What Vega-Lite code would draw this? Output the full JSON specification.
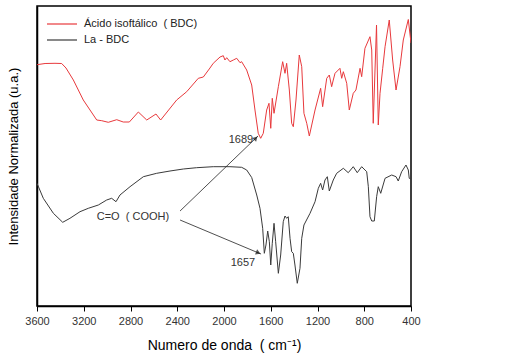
{
  "$schema": "https://vega.github.io/schema/vega-lite/v6.json",
  "width": 374,
  "height": 300,
  "autosize": {"type": "none"},
  "padding": {"left": 37, "top": 6, "right": 98, "bottom": 51},
  "background": "white",
  "config": {
    "font": "Liberation Sans",
    "view": {"stroke": "black", "strokeWidth": 1.5},
    "axis": {"domainColor": "black", "domainWidth": 1.5, "grid": false}
  },
  "datasets": {
    "spectra": [
      {"wn": 3600, "v": 241.3, "s": "Ácido isoftálico\u00a0\u00a0(\u00a0BDC)"},
      {"wn": 3531, "v": 242.5, "s": "Ácido isoftálico\u00a0\u00a0(\u00a0BDC)"},
      {"wn": 3446, "v": 242.7, "s": "Ácido isoftálico\u00a0\u00a0(\u00a0BDC)"},
      {"wn": 3389, "v": 242.5, "s": "Ácido isoftálico\u00a0\u00a0(\u00a0BDC)"},
      {"wn": 3352, "v": 238, "s": "Ácido isoftálico\u00a0\u00a0(\u00a0BDC)"},
      {"wn": 3289, "v": 226, "s": "Ácido isoftálico\u00a0\u00a0(\u00a0BDC)"},
      {"wn": 3204, "v": 206, "s": "Ácido isoftálico\u00a0\u00a0(\u00a0BDC)"},
      {"wn": 3089, "v": 186, "s": "Ácido isoftálico\u00a0\u00a0(\u00a0BDC)"},
      {"wn": 3046, "v": 185.3, "s": "Ácido isoftálico\u00a0\u00a0(\u00a0BDC)"},
      {"wn": 2990, "v": 183.7, "s": "Ácido isoftálico\u00a0\u00a0(\u00a0BDC)"},
      {"wn": 2918, "v": 186.3, "s": "Ácido isoftálico\u00a0\u00a0(\u00a0BDC)"},
      {"wn": 2862, "v": 184, "s": "Ácido isoftálico\u00a0\u00a0(\u00a0BDC)"},
      {"wn": 2810, "v": 184, "s": "Ácido isoftálico\u00a0\u00a0(\u00a0BDC)"},
      {"wn": 2733, "v": 194, "s": "Ácido isoftálico\u00a0\u00a0(\u00a0BDC)"},
      {"wn": 2661, "v": 186, "s": "Ácido isoftálico\u00a0\u00a0(\u00a0BDC)"},
      {"wn": 2582, "v": 192, "s": "Ácido isoftálico\u00a0\u00a0(\u00a0BDC)"},
      {"wn": 2542, "v": 186, "s": "Ácido isoftálico\u00a0\u00a0(\u00a0BDC)"},
      {"wn": 2405, "v": 206, "s": "Ácido isoftálico\u00a0\u00a0(\u00a0BDC)"},
      {"wn": 2319, "v": 214.3, "s": "Ácido isoftálico\u00a0\u00a0(\u00a0BDC)"},
      {"wn": 2220, "v": 227.7, "s": "Ácido isoftálico\u00a0\u00a0(\u00a0BDC)"},
      {"wn": 2177, "v": 229, "s": "Ácido isoftálico\u00a0\u00a0(\u00a0BDC)"},
      {"wn": 2120, "v": 238, "s": "Ácido isoftálico\u00a0\u00a0(\u00a0BDC)"},
      {"wn": 2092, "v": 242.7, "s": "Ácido isoftálico\u00a0\u00a0(\u00a0BDC)"},
      {"wn": 2034, "v": 249, "s": "Ácido isoftálico\u00a0\u00a0(\u00a0BDC)"},
      {"wn": 2006, "v": 250.3, "s": "Ácido isoftálico\u00a0\u00a0(\u00a0BDC)"},
      {"wn": 1992, "v": 246, "s": "Ácido isoftálico\u00a0\u00a0(\u00a0BDC)"},
      {"wn": 1977, "v": 248.3, "s": "Ácido isoftálico\u00a0\u00a0(\u00a0BDC)"},
      {"wn": 1949, "v": 244.3, "s": "Ácido isoftálico\u00a0\u00a0(\u00a0BDC)"},
      {"wn": 1920, "v": 246, "s": "Ácido isoftálico\u00a0\u00a0(\u00a0BDC)"},
      {"wn": 1891, "v": 247.7, "s": "Ácido isoftálico\u00a0\u00a0(\u00a0BDC)"},
      {"wn": 1863, "v": 243.3, "s": "Ácido isoftálico\u00a0\u00a0(\u00a0BDC)"},
      {"wn": 1849, "v": 244.3, "s": "Ácido isoftálico\u00a0\u00a0(\u00a0BDC)"},
      {"wn": 1806, "v": 236, "s": "Ácido isoftálico\u00a0\u00a0(\u00a0BDC)"},
      {"wn": 1763, "v": 221, "s": "Ácido isoftálico\u00a0\u00a0(\u00a0BDC)"},
      {"wn": 1735, "v": 196, "s": "Ácido isoftálico\u00a0\u00a0(\u00a0BDC)"},
      {"wn": 1707, "v": 172.7, "s": "Ácido isoftálico\u00a0\u00a0(\u00a0BDC)"},
      {"wn": 1686, "v": 167.7, "s": "Ácido isoftálico\u00a0\u00a0(\u00a0BDC)"},
      {"wn": 1664, "v": 172.7, "s": "Ácido isoftálico\u00a0\u00a0(\u00a0BDC)"},
      {"wn": 1635, "v": 196, "s": "Ácido isoftálico\u00a0\u00a0(\u00a0BDC)"},
      {"wn": 1615, "v": 202.7, "s": "Ácido isoftálico\u00a0\u00a0(\u00a0BDC)"},
      {"wn": 1600, "v": 177.7, "s": "Ácido isoftálico\u00a0\u00a0(\u00a0BDC)"},
      {"wn": 1587, "v": 207.7, "s": "Ácido isoftálico\u00a0\u00a0(\u00a0BDC)"},
      {"wn": 1572, "v": 192.7, "s": "Ácido isoftálico\u00a0\u00a0(\u00a0BDC)"},
      {"wn": 1535, "v": 219.3, "s": "Ácido isoftálico\u00a0\u00a0(\u00a0BDC)"},
      {"wn": 1498, "v": 244.3, "s": "Ácido isoftálico\u00a0\u00a0(\u00a0BDC)"},
      {"wn": 1478, "v": 232.7, "s": "Ácido isoftálico\u00a0\u00a0(\u00a0BDC)"},
      {"wn": 1464, "v": 242.7, "s": "Ácido isoftálico\u00a0\u00a0(\u00a0BDC)"},
      {"wn": 1441, "v": 216, "s": "Ácido isoftálico\u00a0\u00a0(\u00a0BDC)"},
      {"wn": 1421, "v": 182.7, "s": "Ácido isoftálico\u00a0\u00a0(\u00a0BDC)"},
      {"wn": 1407, "v": 179.3, "s": "Ácido isoftálico\u00a0\u00a0(\u00a0BDC)"},
      {"wn": 1384, "v": 206, "s": "Ácido isoftálico\u00a0\u00a0(\u00a0BDC)"},
      {"wn": 1356, "v": 251, "s": "Ácido isoftálico\u00a0\u00a0(\u00a0BDC)"},
      {"wn": 1335, "v": 239.3, "s": "Ácido isoftálico\u00a0\u00a0(\u00a0BDC)"},
      {"wn": 1316, "v": 192.7, "s": "Ácido isoftálico\u00a0\u00a0(\u00a0BDC)"},
      {"wn": 1292, "v": 182.7, "s": "Ácido isoftálico\u00a0\u00a0(\u00a0BDC)"},
      {"wn": 1270, "v": 170, "s": "Ácido isoftálico\u00a0\u00a0(\u00a0BDC)"},
      {"wn": 1221, "v": 196, "s": "Ácido isoftálico\u00a0\u00a0(\u00a0BDC)"},
      {"wn": 1173, "v": 217.7, "s": "Ácido isoftálico\u00a0\u00a0(\u00a0BDC)"},
      {"wn": 1156, "v": 199.3, "s": "Ácido isoftálico\u00a0\u00a0(\u00a0BDC)"},
      {"wn": 1121, "v": 227.7, "s": "Ácido isoftálico\u00a0\u00a0(\u00a0BDC)"},
      {"wn": 1099, "v": 231, "s": "Ácido isoftálico\u00a0\u00a0(\u00a0BDC)"},
      {"wn": 1079, "v": 219.3, "s": "Ácido isoftálico\u00a0\u00a0(\u00a0BDC)"},
      {"wn": 1065, "v": 226, "s": "Ácido isoftálico\u00a0\u00a0(\u00a0BDC)"},
      {"wn": 1050, "v": 232.7, "s": "Ácido isoftálico\u00a0\u00a0(\u00a0BDC)"},
      {"wn": 1008, "v": 237.7, "s": "Ácido isoftálico\u00a0\u00a0(\u00a0BDC)"},
      {"wn": 993, "v": 227.7, "s": "Ácido isoftálico\u00a0\u00a0(\u00a0BDC)"},
      {"wn": 979, "v": 234.3, "s": "Ácido isoftálico\u00a0\u00a0(\u00a0BDC)"},
      {"wn": 950, "v": 222.7, "s": "Ácido isoftálico\u00a0\u00a0(\u00a0BDC)"},
      {"wn": 928, "v": 196, "s": "Ácido isoftálico\u00a0\u00a0(\u00a0BDC)"},
      {"wn": 894, "v": 212.7, "s": "Ácido isoftálico\u00a0\u00a0(\u00a0BDC)"},
      {"wn": 871, "v": 216, "s": "Ácido isoftálico\u00a0\u00a0(\u00a0BDC)"},
      {"wn": 836, "v": 237.7, "s": "Ácido isoftálico\u00a0\u00a0(\u00a0BDC)"},
      {"wn": 822, "v": 229.3, "s": "Ácido isoftálico\u00a0\u00a0(\u00a0BDC)"},
      {"wn": 794, "v": 257.7, "s": "Ácido isoftálico\u00a0\u00a0(\u00a0BDC)"},
      {"wn": 751, "v": 269.3, "s": "Ácido isoftálico\u00a0\u00a0(\u00a0BDC)"},
      {"wn": 736, "v": 256, "s": "Ácido isoftálico\u00a0\u00a0(\u00a0BDC)"},
      {"wn": 723, "v": 182.7, "s": "Ácido isoftálico\u00a0\u00a0(\u00a0BDC)"},
      {"wn": 708, "v": 236, "s": "Ácido isoftálico\u00a0\u00a0(\u00a0BDC)"},
      {"wn": 695, "v": 281, "s": "Ácido isoftálico\u00a0\u00a0(\u00a0BDC)"},
      {"wn": 680, "v": 181, "s": "Ácido isoftálico\u00a0\u00a0(\u00a0BDC)"},
      {"wn": 665, "v": 212.7, "s": "Ácido isoftálico\u00a0\u00a0(\u00a0BDC)"},
      {"wn": 642, "v": 237.7, "s": "Ácido isoftálico\u00a0\u00a0(\u00a0BDC)"},
      {"wn": 622, "v": 259.3, "s": "Ácido isoftálico\u00a0\u00a0(\u00a0BDC)"},
      {"wn": 586, "v": 286, "s": "Ácido isoftálico\u00a0\u00a0(\u00a0BDC)"},
      {"wn": 557, "v": 246, "s": "Ácido isoftálico\u00a0\u00a0(\u00a0BDC)"},
      {"wn": 528, "v": 216, "s": "Ácido isoftálico\u00a0\u00a0(\u00a0BDC)"},
      {"wn": 494, "v": 239.3, "s": "Ácido isoftálico\u00a0\u00a0(\u00a0BDC)"},
      {"wn": 466, "v": 266, "s": "Ácido isoftálico\u00a0\u00a0(\u00a0BDC)"},
      {"wn": 423, "v": 286.5, "s": "Ácido isoftálico\u00a0\u00a0(\u00a0BDC)"},
      {"wn": 400, "v": 263, "s": "Ácido isoftálico\u00a0\u00a0(\u00a0BDC)"},
      {"wn": 3600, "v": 122.7, "s": "La - BDC"},
      {"wn": 3546, "v": 107.7, "s": "La - BDC"},
      {"wn": 3460, "v": 92.7, "s": "La - BDC"},
      {"wn": 3380, "v": 83.7, "s": "La - BDC"},
      {"wn": 3318, "v": 87.7, "s": "La - BDC"},
      {"wn": 3232, "v": 94.3, "s": "La - BDC"},
      {"wn": 3161, "v": 97.7, "s": "La - BDC"},
      {"wn": 3075, "v": 101, "s": "La - BDC"},
      {"wn": 3004, "v": 106, "s": "La - BDC"},
      {"wn": 2961, "v": 107.7, "s": "La - BDC"},
      {"wn": 2924, "v": 104.3, "s": "La - BDC"},
      {"wn": 2890, "v": 111, "s": "La - BDC"},
      {"wn": 2804, "v": 119.3, "s": "La - BDC"},
      {"wn": 2690, "v": 129.3, "s": "La - BDC"},
      {"wn": 2576, "v": 132.7, "s": "La - BDC"},
      {"wn": 2462, "v": 135, "s": "La - BDC"},
      {"wn": 2348, "v": 137, "s": "La - BDC"},
      {"wn": 2234, "v": 138.3, "s": "La - BDC"},
      {"wn": 2092, "v": 139.3, "s": "La - BDC"},
      {"wn": 1949, "v": 139.3, "s": "La - BDC"},
      {"wn": 1849, "v": 138.7, "s": "La - BDC"},
      {"wn": 1806, "v": 136, "s": "La - BDC"},
      {"wn": 1763, "v": 128.5, "s": "La - BDC"},
      {"wn": 1720, "v": 111, "s": "La - BDC"},
      {"wn": 1692, "v": 97.7, "s": "La - BDC"},
      {"wn": 1669, "v": 77.7, "s": "La - BDC"},
      {"wn": 1655, "v": 52.7, "s": "La - BDC"},
      {"wn": 1641, "v": 61, "s": "La - BDC"},
      {"wn": 1626, "v": 75, "s": "La - BDC"},
      {"wn": 1612, "v": 64.3, "s": "La - BDC"},
      {"wn": 1600, "v": 41, "s": "La - BDC"},
      {"wn": 1587, "v": 62.7, "s": "La - BDC"},
      {"wn": 1572, "v": 82.7, "s": "La - BDC"},
      {"wn": 1558, "v": 64.3, "s": "La - BDC"},
      {"wn": 1535, "v": 32.7, "s": "La - BDC"},
      {"wn": 1515, "v": 51, "s": "La - BDC"},
      {"wn": 1493, "v": 84.3, "s": "La - BDC"},
      {"wn": 1478, "v": 90, "s": "La - BDC"},
      {"wn": 1464, "v": 87.7, "s": "La - BDC"},
      {"wn": 1450, "v": 89.3, "s": "La - BDC"},
      {"wn": 1435, "v": 67.7, "s": "La - BDC"},
      {"wn": 1421, "v": 54.3, "s": "La - BDC"},
      {"wn": 1407, "v": 52.7, "s": "La - BDC"},
      {"wn": 1393, "v": 41, "s": "La - BDC"},
      {"wn": 1373, "v": 22.7, "s": "La - BDC"},
      {"wn": 1350, "v": 37.7, "s": "La - BDC"},
      {"wn": 1335, "v": 67.7, "s": "La - BDC"},
      {"wn": 1316, "v": 81, "s": "La - BDC"},
      {"wn": 1264, "v": 92.7, "s": "La - BDC"},
      {"wn": 1221, "v": 104.3, "s": "La - BDC"},
      {"wn": 1193, "v": 117.7, "s": "La - BDC"},
      {"wn": 1173, "v": 122.7, "s": "La - BDC"},
      {"wn": 1156, "v": 116, "s": "La - BDC"},
      {"wn": 1136, "v": 126, "s": "La - BDC"},
      {"wn": 1116, "v": 129.3, "s": "La - BDC"},
      {"wn": 1099, "v": 115, "s": "La - BDC"},
      {"wn": 1065, "v": 126, "s": "La - BDC"},
      {"wn": 1036, "v": 132.7, "s": "La - BDC"},
      {"wn": 979, "v": 137.7, "s": "La - BDC"},
      {"wn": 937, "v": 133.3, "s": "La - BDC"},
      {"wn": 894, "v": 139.3, "s": "La - BDC"},
      {"wn": 860, "v": 133.3, "s": "La - BDC"},
      {"wn": 822, "v": 139.3, "s": "La - BDC"},
      {"wn": 779, "v": 134.3, "s": "La - BDC"},
      {"wn": 765, "v": 119.3, "s": "La - BDC"},
      {"wn": 751, "v": 89.3, "s": "La - BDC"},
      {"wn": 736, "v": 85, "s": "La - BDC"},
      {"wn": 714, "v": 85, "s": "La - BDC"},
      {"wn": 694, "v": 109.3, "s": "La - BDC"},
      {"wn": 680, "v": 119.3, "s": "La - BDC"},
      {"wn": 659, "v": 112.7, "s": "La - BDC"},
      {"wn": 622, "v": 127.7, "s": "La - BDC"},
      {"wn": 565, "v": 131, "s": "La - BDC"},
      {"wn": 528, "v": 129.3, "s": "La - BDC"},
      {"wn": 509, "v": 125, "s": "La - BDC"},
      {"wn": 480, "v": 134.3, "s": "La - BDC"},
      {"wn": 443, "v": 141, "s": "La - BDC"},
      {"wn": 423, "v": 136, "s": "La - BDC"},
      {"wn": 415, "v": 127.7, "s": "La - BDC"},
      {"wn": 400, "v": 127, "s": "La - BDC"}
    ],
    "arrows": [
      {"id": "a1", "x1": 2376, "y1": 95, "x2": 1709, "y2": 170},
      {"id": "a2", "x1": 2376, "y1": 86, "x2": 1683, "y2": 52}
    ],
    "heads": [
      {"id": "a1", "hx": 1728, "hy": 167.9},
      {"id": "a2", "hx": 1707, "hy": 53.2}
    ],
    "labels": [
      {"t": "1689", "lx": 1855, "ly": 166},
      {"t": "1657", "lx": 1838, "ly": 43},
      {"t": "C=O\u00a0\u00a0(\u00a0COOH)", "lx": 2779, "ly": 89}
    ]
  },
  "layer": [
    {
      "data": {"name": "spectra"},
      "mark": {"type": "line", "strokeWidth": 1, "clip": true},
      "encoding": {
        "x": {
          "field": "wn", "type": "quantitative",
          "scale": {"domain": [400, 3600], "reverse": true, "nice": false, "zero": false},
          "axis": {
            "values": [3600, 3400, 3200, 3000, 2800, 2600, 2400, 2200, 2000, 1800, 1600, 1400, 1200, 1000, 800, 600, 400],
            "labelExpr": "datum.value % 400 == 0 ? format(datum.value, 'd') : ''",
            "tickSize": 5, "tickColor": "black", "tickWidth": 1,
            "labelFontSize": 11, "labelColor": "#333", "labelPadding": 4,
            "labelFlush": false, "labelOverlap": false,
            "title": "Numero de onda\u00a0\u00a0(\u00a0cm⁻¹)",
            "titleFontSize": 14, "titleFontWeight": "normal", "titleColor": "black", "titlePadding": 12
          }
        },
        "y": {
          "field": "v", "type": "quantitative",
          "scale": {"domain": [0, 300], "nice": false, "zero": false},
          "axis": {
            "ticks": false, "labels": false,
            "title": "Intensidade Normalizada (u.a.)",
            "titleFontSize": 13, "titleFontWeight": "normal", "titleColor": "black", "titlePadding": 17
          }
        },
        "color": {
          "field": "s", "type": "nominal",
          "scale": {"domain": ["Ácido isoftálico\u00a0\u00a0(\u00a0BDC)", "La - BDC"], "range": ["#e8393c", "#3a3a3a"]},
          "legend": {
            "title": null, "orient": "none", "legendX": 19, "legendY": 12,
            "symbolType": "M-3,0H3", "symbolSize": 100, "symbolStrokeWidth": 1.2,
            "labelFontSize": 11, "labelColor": "#222", "labelOffset": 16, "rowPadding": 5
          }
        }
      }
    },
    {
      "data": {"name": "arrows"},
      "mark": {"type": "rule", "color": "#222", "strokeWidth": 0.8},
      "encoding": {
        "x": {"field": "x1", "type": "quantitative"},
        "y": {"field": "y1", "type": "quantitative"},
        "x2": {"field": "x2"},
        "y2": {"field": "y2"}
      }
    },
    {
      "data": {"name": "heads"},
      "transform": [{"filter": "datum.id == 'a1'"}],
      "mark": {"type": "point", "shape": "triangle-up", "filled": true, "color": "#111", "size": 30, "angle": 44},
      "encoding": {
        "x": {"field": "hx", "type": "quantitative"},
        "y": {"field": "hy", "type": "quantitative"}
      }
    },
    {
      "data": {"name": "heads"},
      "transform": [{"filter": "datum.id == 'a2'"}],
      "mark": {"type": "point", "shape": "triangle-up", "filled": true, "color": "#111", "size": 30, "angle": 113},
      "encoding": {
        "x": {"field": "hx", "type": "quantitative"},
        "y": {"field": "hy", "type": "quantitative"}
      }
    },
    {
      "data": {"name": "labels"},
      "mark": {"type": "text", "fontSize": 11, "color": "#333"},
      "encoding": {
        "x": {"field": "lx", "type": "quantitative"},
        "y": {"field": "ly", "type": "quantitative"},
        "text": {"field": "t"}
      }
    }
  ]
}
